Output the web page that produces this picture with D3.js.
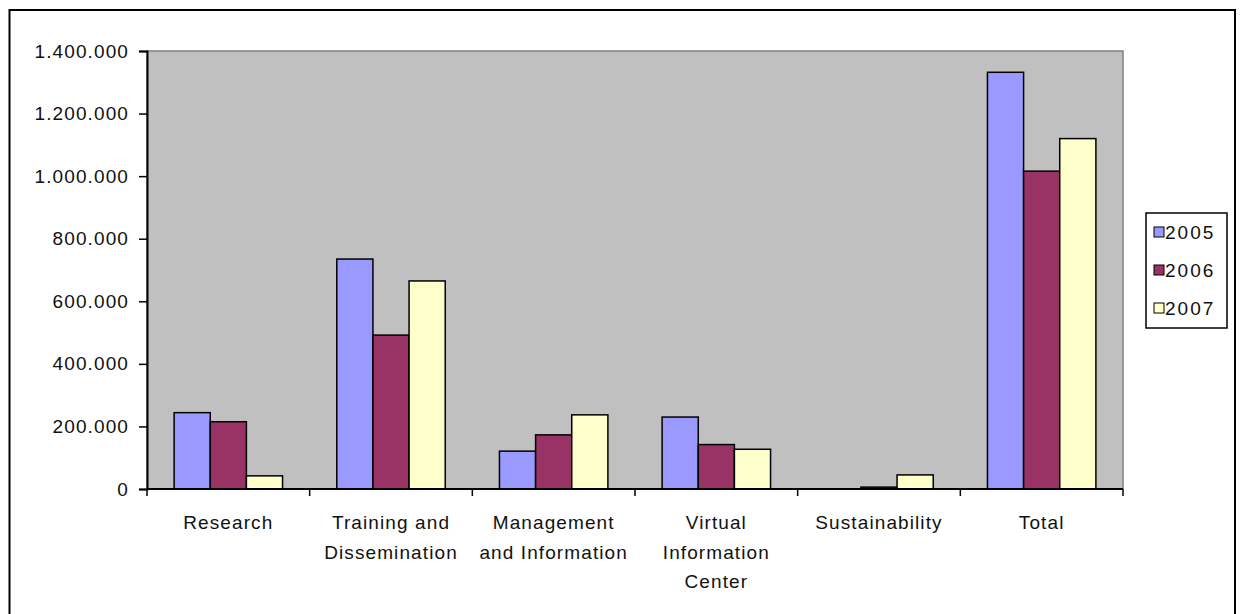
<!DOCTYPE html>
<html>
<head>
<meta charset="utf-8">
<script src="https://cdn.jsdelivr.net/npm/d3@7"></script>
<style>
  body { margin: 0; background: #fff; }
  svg text { font-family: "Liberation Sans", Arial, sans-serif; font-size: 19px; letter-spacing: 1.1px; fill: #111; }
</style>
</head>
<body>
<svg width="1242" height="614"></svg>
<script>
var width = 1242;
var height = 614;
var margin = { top: 51, bottom: 125, left: 147, right: 119 };

// data
var categories = [
  ['Research'],
  ['Training and', 'Dissemination'],
  ['Management', 'and Information'],
  ['Virtual', 'Information', 'Center'],
  ['Sustainability'],
  ['Total']
];
var years = ['2005', '2006', '2007'];
var v2005 = [244000, 735000, 121000, 230000, 0, 1332000];
var v2006 = [215000, 492000, 173000, 142000, 6000, 1016000];
var v2007 = [42000, 665000, 237000, 127000, 45000, 1120000];
var colors = ['#9999ff', '#993366', '#ffffcc'];
var yTicks = [0, 200000, 400000, 600000, 800000, 1000000, 1200000, 1400000];

var series = [v2005, v2006, v2007];

var svg = d3.select('svg');

// outer chart border
svg.append('rect')
  .attr('x', 9.5).attr('y', 10)
  .attr('width', 1225.5).attr('height', 620)
  .attr('fill', '#fff')
  .attr('stroke', '#000')
  .attr('stroke-width', 2);

// Setup scales ------------------------------------------------------------
var xScale = d3.scaleBand()
  .domain(d3.range(categories.length))
  .range([margin.left, width - margin.right]);
var yScale = d3.scaleLinear()
  .domain([0, 1400000])
  .range([height - margin.bottom, margin.top]);

var barW = xScale.bandwidth() / 4.5; // excel gap width 150%

// plot area
svg.append('rect')
  .attr('x', margin.left).attr('y', margin.top)
  .attr('width', width - margin.right - margin.left)
  .attr('height', height - margin.bottom - margin.top)
  .attr('fill', '#c0c0c0')
  .attr('stroke', '#808080')
  .attr('stroke-width', 1.5);

// bars
series.forEach((vals, s) => {
  svg.append('g').selectAll('rect')
    .data(vals)
    .enter().append('rect')
    .attr('x', (d, i) => xScale(i) + barW * 0.75 + s * barW)
    .attr('y', d => yScale(d))
    .attr('width', barW)
    .attr('height', d => yScale(0) - yScale(d))
    .attr('fill', colors[s])
    .attr('stroke', d => d > 0 ? '#000' : 'none')
    .attr('stroke-width', 1.5);
});

// Define Axes
var yAxis = d3.axisLeft(yScale)
  .tickValues(yTicks)
  .tickSize(8)
  .tickPadding(10)
  .tickFormat(d => d3.format(',')(d).replace(/,/g, '.'));

var gy = svg.append('g')
  .attr('transform', 'translate(' + [margin.left, 0] + ')')
  .call(yAxis);
gy.selectAll('.domain').attr('stroke', '#000').attr('stroke-width', 2);
gy.selectAll('.tick line').attr('stroke', '#000').attr('stroke-width', 1.5);
gy.selectAll('text').attr('font-size', null).attr('font-family', null).attr('fill', null);

// x axis: line plus ticks at category boundaries
var bounds = d3.range(categories.length + 1).map(i =>
  i < categories.length ? xScale(i) : xScale.range()[1]);
var gx = svg.append('g');
gx.append('line')
  .attr('x1', margin.left).attr('x2', width - margin.right)
  .attr('y1', yScale(0)).attr('y2', yScale(0))
  .attr('stroke', '#000').attr('stroke-width', 2);
gx.selectAll('.xt')
  .data(bounds)
  .enter().append('line')
  .attr('x1', d => d).attr('x2', d => d)
  .attr('y1', yScale(0)).attr('y2', yScale(0) + 7)
  .attr('stroke', '#000').attr('stroke-width', 1.5);

// category labels
categories.forEach((lines, i) => {
  var t = svg.append('text')
    .attr('text-anchor', 'middle')
    .attr('x', xScale(i) + xScale.bandwidth() / 2)
    .attr('y', yScale(0) + 40);
  lines.forEach((ln, j) => {
    t.append('tspan')
      .attr('x', xScale(i) + xScale.bandwidth() / 2)
      .attr('dy', j === 0 ? 0 : 29.5)
      .text(ln);
  });
});

// legend
var legend = svg.append('g').attr('transform', 'translate(1146,213)');
legend.append('rect')
  .attr('width', 81).attr('height', 115)
  .attr('fill', '#fff').attr('stroke', '#000').attr('stroke-width', 1.5);
years.forEach((yr, i) => {
  var row = legend.append('g').attr('transform', 'translate(8,' + (19 + i * 38) + ')');
  row.append('rect')
    .attr('x', 0).attr('y', -5)
    .attr('width', 10).attr('height', 10)
    .attr('fill', colors[i]).attr('stroke', '#000').attr('stroke-width', 1);
  row.append('text')
    .attr('x', 11).attr('dy', '0.35em')
    .style('letter-spacing', '2px')
    .text(yr);
});
</script>
</body>
</html>
